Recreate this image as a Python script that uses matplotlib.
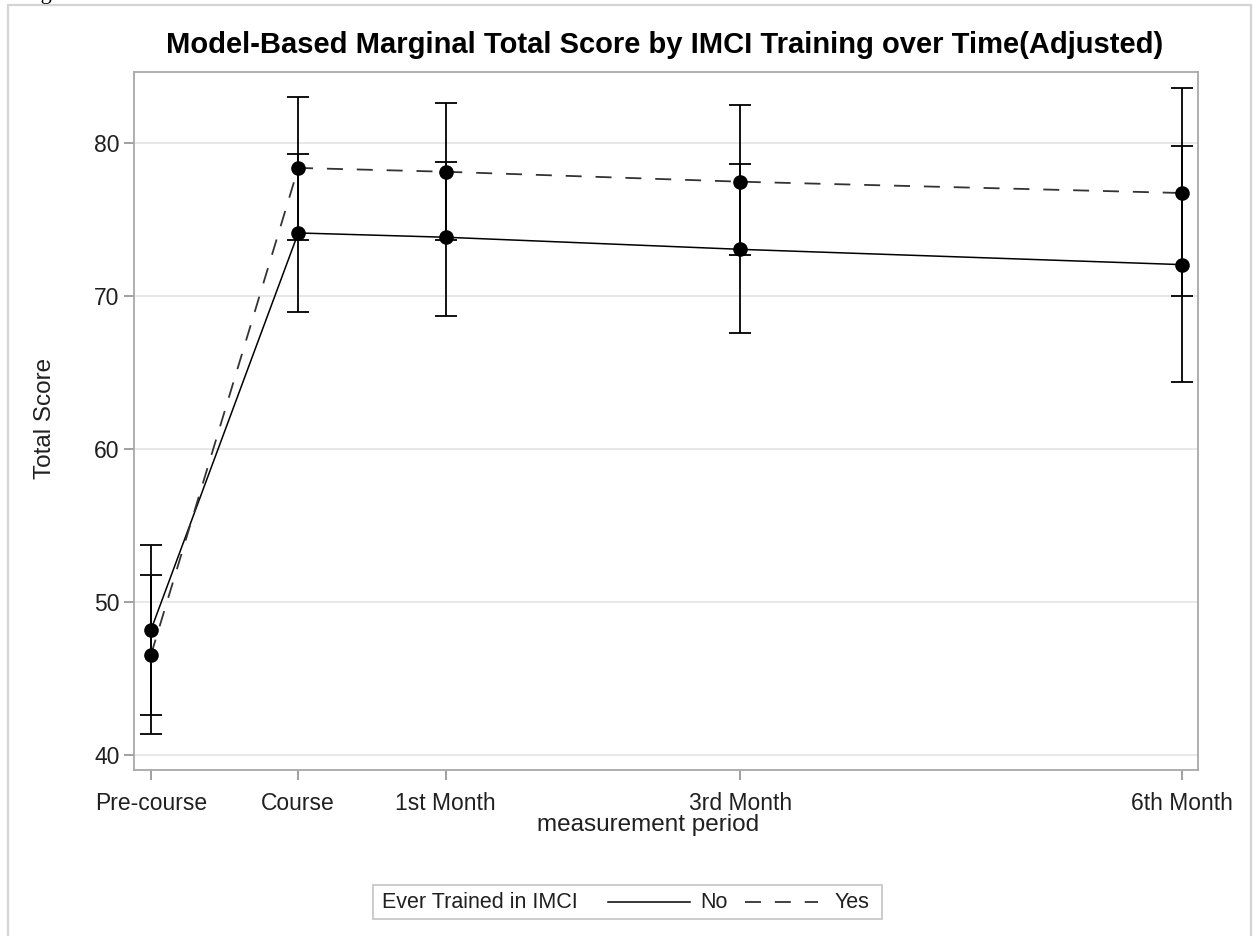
import numpy as np
import matplotlib
matplotlib.use('Agg')
import matplotlib.pyplot as plt
from matplotlib.lines import Line2D
from matplotlib.patches import Rectangle

plt.rcParams['font.family'] = ['Liberation Sans', 'DejaVu Sans']
plt.rcParams['lines.scale_dashes'] = False

# measurement periods (months relative to the course)
periods = ['Pre-course', 'Course', '1st Month', '3rd Month', '6th Month']
months = [-1, 0, 1, 3, 6]

# Ever trained in IMCI = No
no_mean = [48.17, 74.12, 73.84, 73.05, 72.05]
no_lower = [42.60, 68.97, 68.71, 67.56, 64.36]
no_upper = [53.73, 79.28, 78.78, 78.63, 79.80]

# Ever trained in IMCI = Yes
yes_mean = [46.54, 78.37, 78.12, 77.47, 76.73]
yes_lower = [41.37, 73.66, 73.66, 72.68, 70.00]
yes_upper = [51.76, 83.00, 82.60, 82.48, 83.61]

W, H, DPI = 1254, 936, 100
fig = plt.figure(figsize=(W / DPI, H / DPI), dpi=DPI)

def fx(px):
    return px / W

def fy(py):
    return 1 - py / H

# outer frame around the graph
fig.patches.append(Rectangle((fx(8), fy(940)), fx(1251) - fx(8), fy(5) - fy(940),
                             transform=fig.transFigure, fill=False,
                             edgecolor='#d4d4d4', linewidth=1.6))
fig.text(fx(22), fy(-1), 'Figure', family='Liberation Serif', fontsize=16,
         va='baseline', ha='left', color='black')

ax = fig.add_axes([fx(134), fy(770), fx(1198) - fx(134), fy(72) - fy(770)])

no_err = [np.array(no_mean) - np.array(no_lower), np.array(no_upper) - np.array(no_mean)]
yes_err = [np.array(yes_mean) - np.array(yes_lower), np.array(yes_upper) - np.array(yes_mean)]

ax.errorbar(months, no_mean, yerr=no_err, fmt='none', ecolor='black',
            elinewidth=1.3, capsize=7.6, capthick=1.3, zorder=3)
ax.errorbar(months, yes_mean, yerr=yes_err, fmt='none', ecolor='black',
            elinewidth=1.3, capsize=7.6, capthick=1.3, zorder=3)

ax.plot(months, no_mean, color='black', linewidth=1.1, zorder=2)
ax.plot(months, yes_mean, color='#333333', linewidth=1.3, dashes=(11.5, 10), zorder=2)
ax.plot(months, no_mean, 'o', color='black', markersize=9.5, zorder=4)
ax.plot(months, yes_mean, 'o', color='black', markersize=9.5, zorder=4)

ax.set_xlim(-1.115, 6.108)
ax.set_ylim(39.02, 84.64)
ax.set_xticks(months)
ax.set_xticklabels(periods)
ax.set_yticks([40, 50, 60, 70, 80])

ax.grid(axis='y', color='#e4e4e4', linewidth=1.2, zorder=0)
ax.set_axisbelow(True)
for s in ax.spines.values():
    s.set_color('#a8a8a8')
    s.set_linewidth(1.3)
ax.tick_params(axis='both', direction='out', length=7.5, width=1.2, color='#909090',
               labelsize=16.5, labelcolor='#202020')
ax.tick_params(axis='x', pad=8)
ax.tick_params(axis='y', pad=3)

fig.text(fx(665), fy(45), 'Model-Based Marginal Total Score by IMCI Training over Time(Adjusted)',
         ha='center', va='center', fontsize=21, fontweight='bold')
fig.text(fx(648), fy(825), 'measurement period', ha='center', va='center',
         fontsize=17.5, color='#202020')
fig.text(fx(45), fy(418), 'Total Score', ha='center', va='center', rotation=90,
         fontsize=17.5, color='#202020')

# legend box below the plot
fig.patches.append(Rectangle((fx(373), fy(919)), fx(882) - fx(373), fy(885) - fy(919),
                             transform=fig.transFigure, fill=False,
                             edgecolor='#c8c8c8', linewidth=1.3))
fig.text(fx(382), fy(902), 'Ever Trained in IMCI', ha='left', va='center',
         fontsize=15.5, color='#202020')
fig.lines.append(Line2D([fx(608), fx(690)], [fy(902), fy(902)], transform=fig.transFigure,
                        color='black', linewidth=1.1))
fig.text(fx(700), fy(902), 'No', ha='left', va='center', fontsize=15.5, color='#202020')
fig.lines.append(Line2D([fx(745), fx(818)], [fy(902), fy(902)], transform=fig.transFigure,
                        color='#333333', linewidth=1.3, dashes=(11.5, 10)))
fig.text(fx(835), fy(902), 'Yes', ha='left', va='center', fontsize=15.5, color='#202020')

fig.savefig('out.png', dpi=DPI)
